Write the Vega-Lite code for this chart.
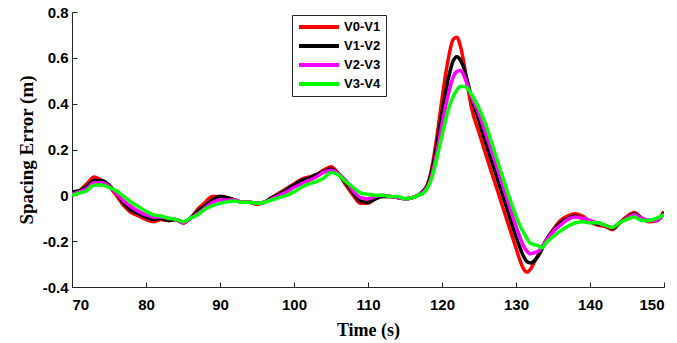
{
  "$schema": "https://vega.github.io/schema/vega-lite/v6.json",
  "width": 592,
  "height": 275,
  "autosize": {"type": "none"},
  "padding": {"left": 72, "top": 12, "right": 13, "bottom": 56},
  "background": "white",
  "config": {"view": {"stroke": null}},
  "data": {"values": [
    {"t":70,"s":"V0-V1","e":0.01},{"t":71,"s":"V0-V1","e":0.02},{"t":72,"s":"V0-V1","e":0.05},{"t":73,"s":"V0-V1","e":0.08},{"t":74,"s":"V0-V1","e":0.065},{"t":75,"s":"V0-V1","e":0.04},{"t":76,"s":"V0-V1","e":0.0},{"t":77,"s":"V0-V1","e":-0.045},{"t":78,"s":"V0-V1","e":-0.075},{"t":79,"s":"V0-V1","e":-0.09},{"t":80,"s":"V0-V1","e":-0.105},{"t":81,"s":"V0-V1","e":-0.115},{"t":82,"s":"V0-V1","e":-0.105},{"t":83,"s":"V0-V1","e":-0.11},{"t":84,"s":"V0-V1","e":-0.105},{"t":85,"s":"V0-V1","e":-0.12},{"t":86,"s":"V0-V1","e":-0.1},{"t":87,"s":"V0-V1","e":-0.06},{"t":88,"s":"V0-V1","e":-0.03},{"t":89,"s":"V0-V1","e":-0.005},{"t":90,"s":"V0-V1","e":-0.005},{"t":91,"s":"V0-V1","e":-0.01},{"t":92,"s":"V0-V1","e":-0.02},{"t":93,"s":"V0-V1","e":-0.03},{"t":94,"s":"V0-V1","e":-0.03},{"t":95,"s":"V0-V1","e":-0.04},{"t":96,"s":"V0-V1","e":-0.03},{"t":97,"s":"V0-V1","e":-0.01},{"t":98,"s":"V0-V1","e":0.01},{"t":99,"s":"V0-V1","e":0.03},{"t":100,"s":"V0-V1","e":0.05},{"t":101,"s":"V0-V1","e":0.07},{"t":102,"s":"V0-V1","e":0.08},{"t":103,"s":"V0-V1","e":0.09},{"t":104,"s":"V0-V1","e":0.11},{"t":105,"s":"V0-V1","e":0.125},{"t":106,"s":"V0-V1","e":0.095},{"t":107,"s":"V0-V1","e":0.045},{"t":108,"s":"V0-V1","e":0.0},{"t":109,"s":"V0-V1","e":-0.035},{"t":110,"s":"V0-V1","e":-0.035},{"t":111,"s":"V0-V1","e":-0.015},{"t":112,"s":"V0-V1","e":-0.005},{"t":113,"s":"V0-V1","e":-0.005},{"t":114,"s":"V0-V1","e":-0.01},{"t":115,"s":"V0-V1","e":-0.015},{"t":116,"s":"V0-V1","e":-0.01},{"t":117,"s":"V0-V1","e":0.005},{"t":117.5,"s":"V0-V1","e":0.02},{"t":118,"s":"V0-V1","e":0.045},{"t":118.5,"s":"V0-V1","e":0.1},{"t":119,"s":"V0-V1","e":0.19},{"t":119.5,"s":"V0-V1","e":0.3},{"t":120,"s":"V0-V1","e":0.42},{"t":120.5,"s":"V0-V1","e":0.53},{"t":121,"s":"V0-V1","e":0.62},{"t":121.5,"s":"V0-V1","e":0.68},{"t":122,"s":"V0-V1","e":0.69},{"t":122.5,"s":"V0-V1","e":0.65},{"t":123,"s":"V0-V1","e":0.57},{"t":123.5,"s":"V0-V1","e":0.47},{"t":124,"s":"V0-V1","e":0.38},{"t":125,"s":"V0-V1","e":0.275},{"t":126,"s":"V0-V1","e":0.17},{"t":127,"s":"V0-V1","e":0.07},{"t":128,"s":"V0-V1","e":-0.03},{"t":129,"s":"V0-V1","e":-0.13},{"t":130,"s":"V0-V1","e":-0.23},{"t":130.5,"s":"V0-V1","e":-0.28},{"t":131,"s":"V0-V1","e":-0.32},{"t":131.5,"s":"V0-V1","e":-0.335},{"t":132,"s":"V0-V1","e":-0.32},{"t":132.5,"s":"V0-V1","e":-0.29},{"t":133,"s":"V0-V1","e":-0.26},{"t":133.5,"s":"V0-V1","e":-0.23},{"t":134,"s":"V0-V1","e":-0.2},{"t":135,"s":"V0-V1","e":-0.15},{"t":136,"s":"V0-V1","e":-0.11},{"t":137,"s":"V0-V1","e":-0.09},{"t":138,"s":"V0-V1","e":-0.08},{"t":139,"s":"V0-V1","e":-0.09},{"t":140,"s":"V0-V1","e":-0.115},{"t":141,"s":"V0-V1","e":-0.13},{"t":142,"s":"V0-V1","e":-0.135},{"t":143,"s":"V0-V1","e":-0.15},{"t":144,"s":"V0-V1","e":-0.12},{"t":145,"s":"V0-V1","e":-0.092},{"t":146,"s":"V0-V1","e":-0.075},{"t":147,"s":"V0-V1","e":-0.1},{"t":148,"s":"V0-V1","e":-0.115},{"t":149,"s":"V0-V1","e":-0.11},{"t":150,"s":"V0-V1","e":-0.07},

    {"t":70,"s":"V1-V2","e":0.015},{"t":71,"s":"V1-V2","e":0.02},{"t":72,"s":"V1-V2","e":0.04},{"t":73,"s":"V1-V2","e":0.065},{"t":74,"s":"V1-V2","e":0.065},{"t":75,"s":"V1-V2","e":0.045},{"t":76,"s":"V1-V2","e":0.01},{"t":77,"s":"V1-V2","e":-0.035},{"t":78,"s":"V1-V2","e":-0.065},{"t":79,"s":"V1-V2","e":-0.08},{"t":80,"s":"V1-V2","e":-0.095},{"t":81,"s":"V1-V2","e":-0.105},{"t":82,"s":"V1-V2","e":-0.1},{"t":83,"s":"V1-V2","e":-0.11},{"t":84,"s":"V1-V2","e":-0.105},{"t":85,"s":"V1-V2","e":-0.12},{"t":86,"s":"V1-V2","e":-0.1},{"t":87,"s":"V1-V2","e":-0.07},{"t":88,"s":"V1-V2","e":-0.045},{"t":89,"s":"V1-V2","e":-0.02},{"t":90,"s":"V1-V2","e":-0.005},{"t":91,"s":"V1-V2","e":-0.01},{"t":92,"s":"V1-V2","e":-0.02},{"t":93,"s":"V1-V2","e":-0.03},{"t":94,"s":"V1-V2","e":-0.03},{"t":95,"s":"V1-V2","e":-0.035},{"t":96,"s":"V1-V2","e":-0.03},{"t":97,"s":"V1-V2","e":-0.01},{"t":98,"s":"V1-V2","e":0.005},{"t":99,"s":"V1-V2","e":0.025},{"t":100,"s":"V1-V2","e":0.045},{"t":101,"s":"V1-V2","e":0.065},{"t":102,"s":"V1-V2","e":0.075},{"t":103,"s":"V1-V2","e":0.09},{"t":104,"s":"V1-V2","e":0.105},{"t":105,"s":"V1-V2","e":0.115},{"t":106,"s":"V1-V2","e":0.095},{"t":107,"s":"V1-V2","e":0.055},{"t":108,"s":"V1-V2","e":0.01},{"t":109,"s":"V1-V2","e":-0.025},{"t":110,"s":"V1-V2","e":-0.03},{"t":111,"s":"V1-V2","e":-0.015},{"t":112,"s":"V1-V2","e":-0.005},{"t":113,"s":"V1-V2","e":-0.005},{"t":114,"s":"V1-V2","e":-0.01},{"t":115,"s":"V1-V2","e":-0.015},{"t":116,"s":"V1-V2","e":-0.01},{"t":117,"s":"V1-V2","e":0.005},{"t":117.5,"s":"V1-V2","e":0.02},{"t":118,"s":"V1-V2","e":0.04},{"t":118.5,"s":"V1-V2","e":0.09},{"t":119,"s":"V1-V2","e":0.165},{"t":119.5,"s":"V1-V2","e":0.26},{"t":120,"s":"V1-V2","e":0.36},{"t":120.5,"s":"V1-V2","e":0.45},{"t":121,"s":"V1-V2","e":0.53},{"t":121.5,"s":"V1-V2","e":0.585},{"t":122,"s":"V1-V2","e":0.605},{"t":122.5,"s":"V1-V2","e":0.59},{"t":123,"s":"V1-V2","e":0.55},{"t":123.5,"s":"V1-V2","e":0.49},{"t":124,"s":"V1-V2","e":0.425},{"t":125,"s":"V1-V2","e":0.325},{"t":126,"s":"V1-V2","e":0.22},{"t":127,"s":"V1-V2","e":0.12},{"t":128,"s":"V1-V2","e":0.02},{"t":129,"s":"V1-V2","e":-0.08},{"t":130,"s":"V1-V2","e":-0.18},{"t":130.5,"s":"V1-V2","e":-0.225},{"t":131,"s":"V1-V2","e":-0.265},{"t":131.5,"s":"V1-V2","e":-0.29},{"t":132,"s":"V1-V2","e":-0.295},{"t":132.5,"s":"V1-V2","e":-0.285},{"t":133,"s":"V1-V2","e":-0.265},{"t":133.5,"s":"V1-V2","e":-0.235},{"t":134,"s":"V1-V2","e":-0.2},{"t":135,"s":"V1-V2","e":-0.155},{"t":136,"s":"V1-V2","e":-0.12},{"t":137,"s":"V1-V2","e":-0.1},{"t":138,"s":"V1-V2","e":-0.09},{"t":139,"s":"V1-V2","e":-0.1},{"t":140,"s":"V1-V2","e":-0.115},{"t":141,"s":"V1-V2","e":-0.125},{"t":142,"s":"V1-V2","e":-0.13},{"t":143,"s":"V1-V2","e":-0.145},{"t":144,"s":"V1-V2","e":-0.12},{"t":145,"s":"V1-V2","e":-0.1},{"t":146,"s":"V1-V2","e":-0.08},{"t":147,"s":"V1-V2","e":-0.1},{"t":148,"s":"V1-V2","e":-0.11},{"t":149,"s":"V1-V2","e":-0.11},{"t":150,"s":"V1-V2","e":-0.075},

    {"t":70,"s":"V2-V3","e":0.005},{"t":71,"s":"V2-V3","e":0.015},{"t":72,"s":"V2-V3","e":0.03},{"t":73,"s":"V2-V3","e":0.055},{"t":74,"s":"V2-V3","e":0.055},{"t":75,"s":"V2-V3","e":0.04},{"t":76,"s":"V2-V3","e":0.01},{"t":77,"s":"V2-V3","e":-0.025},{"t":78,"s":"V2-V3","e":-0.05},{"t":79,"s":"V2-V3","e":-0.07},{"t":80,"s":"V2-V3","e":-0.085},{"t":81,"s":"V2-V3","e":-0.095},{"t":82,"s":"V2-V3","e":-0.095},{"t":83,"s":"V2-V3","e":-0.1},{"t":84,"s":"V2-V3","e":-0.105},{"t":85,"s":"V2-V3","e":-0.12},{"t":86,"s":"V2-V3","e":-0.1},{"t":87,"s":"V2-V3","e":-0.08},{"t":88,"s":"V2-V3","e":-0.055},{"t":89,"s":"V2-V3","e":-0.03},{"t":90,"s":"V2-V3","e":-0.02},{"t":91,"s":"V2-V3","e":-0.02},{"t":92,"s":"V2-V3","e":-0.02},{"t":93,"s":"V2-V3","e":-0.03},{"t":94,"s":"V2-V3","e":-0.03},{"t":95,"s":"V2-V3","e":-0.035},{"t":96,"s":"V2-V3","e":-0.03},{"t":97,"s":"V2-V3","e":-0.015},{"t":98,"s":"V2-V3","e":0.0},{"t":99,"s":"V2-V3","e":0.015},{"t":100,"s":"V2-V3","e":0.035},{"t":101,"s":"V2-V3","e":0.05},{"t":102,"s":"V2-V3","e":0.065},{"t":103,"s":"V2-V3","e":0.08},{"t":104,"s":"V2-V3","e":0.1},{"t":105,"s":"V2-V3","e":0.11},{"t":106,"s":"V2-V3","e":0.095},{"t":107,"s":"V2-V3","e":0.065},{"t":108,"s":"V2-V3","e":0.02},{"t":109,"s":"V2-V3","e":-0.01},{"t":110,"s":"V2-V3","e":-0.015},{"t":111,"s":"V2-V3","e":-0.005},{"t":112,"s":"V2-V3","e":0.0},{"t":113,"s":"V2-V3","e":-0.005},{"t":114,"s":"V2-V3","e":-0.01},{"t":115,"s":"V2-V3","e":-0.015},{"t":116,"s":"V2-V3","e":-0.01},{"t":117,"s":"V2-V3","e":0.005},{"t":117.5,"s":"V2-V3","e":0.015},{"t":118,"s":"V2-V3","e":0.035},{"t":118.5,"s":"V2-V3","e":0.075},{"t":119,"s":"V2-V3","e":0.14},{"t":119.5,"s":"V2-V3","e":0.22},{"t":120,"s":"V2-V3","e":0.31},{"t":120.5,"s":"V2-V3","e":0.39},{"t":121,"s":"V2-V3","e":0.46},{"t":121.5,"s":"V2-V3","e":0.515},{"t":122,"s":"V2-V3","e":0.54},{"t":122.5,"s":"V2-V3","e":0.545},{"t":123,"s":"V2-V3","e":0.52},{"t":123.5,"s":"V2-V3","e":0.475},{"t":124,"s":"V2-V3","e":0.43},{"t":125,"s":"V2-V3","e":0.355},{"t":126,"s":"V2-V3","e":0.26},{"t":127,"s":"V2-V3","e":0.165},{"t":128,"s":"V2-V3","e":0.065},{"t":129,"s":"V2-V3","e":-0.035},{"t":130,"s":"V2-V3","e":-0.135},{"t":130.5,"s":"V2-V3","e":-0.18},{"t":131,"s":"V2-V3","e":-0.22},{"t":131.5,"s":"V2-V3","e":-0.245},{"t":132,"s":"V2-V3","e":-0.255},{"t":132.5,"s":"V2-V3","e":-0.25},{"t":133,"s":"V2-V3","e":-0.245},{"t":133.5,"s":"V2-V3","e":-0.225},{"t":134,"s":"V2-V3","e":-0.2},{"t":135,"s":"V2-V3","e":-0.16},{"t":136,"s":"V2-V3","e":-0.13},{"t":137,"s":"V2-V3","e":-0.105},{"t":138,"s":"V2-V3","e":-0.095},{"t":139,"s":"V2-V3","e":-0.1},{"t":140,"s":"V2-V3","e":-0.11},{"t":141,"s":"V2-V3","e":-0.12},{"t":142,"s":"V2-V3","e":-0.13},{"t":143,"s":"V2-V3","e":-0.14},{"t":144,"s":"V2-V3","e":-0.12},{"t":145,"s":"V2-V3","e":-0.1},{"t":146,"s":"V2-V3","e":-0.085},{"t":147,"s":"V2-V3","e":-0.1},{"t":148,"s":"V2-V3","e":-0.11},{"t":149,"s":"V2-V3","e":-0.11},{"t":150,"s":"V2-V3","e":-0.08},

    {"t":70,"s":"V3-V4","e":0.0},{"t":71,"s":"V3-V4","e":0.01},{"t":72,"s":"V3-V4","e":0.02},{"t":73,"s":"V3-V4","e":0.045},{"t":74,"s":"V3-V4","e":0.045},{"t":75,"s":"V3-V4","e":0.035},{"t":76,"s":"V3-V4","e":0.02},{"t":77,"s":"V3-V4","e":-0.005},{"t":78,"s":"V3-V4","e":-0.03},{"t":79,"s":"V3-V4","e":-0.05},{"t":80,"s":"V3-V4","e":-0.07},{"t":81,"s":"V3-V4","e":-0.085},{"t":82,"s":"V3-V4","e":-0.09},{"t":83,"s":"V3-V4","e":-0.1},{"t":84,"s":"V3-V4","e":-0.105},{"t":85,"s":"V3-V4","e":-0.115},{"t":86,"s":"V3-V4","e":-0.1},{"t":87,"s":"V3-V4","e":-0.085},{"t":88,"s":"V3-V4","e":-0.06},{"t":89,"s":"V3-V4","e":-0.045},{"t":90,"s":"V3-V4","e":-0.035},{"t":91,"s":"V3-V4","e":-0.028},{"t":92,"s":"V3-V4","e":-0.025},{"t":93,"s":"V3-V4","e":-0.03},{"t":94,"s":"V3-V4","e":-0.03},{"t":95,"s":"V3-V4","e":-0.035},{"t":96,"s":"V3-V4","e":-0.03},{"t":97,"s":"V3-V4","e":-0.02},{"t":98,"s":"V3-V4","e":-0.01},{"t":99,"s":"V3-V4","e":0.0},{"t":100,"s":"V3-V4","e":0.015},{"t":101,"s":"V3-V4","e":0.035},{"t":102,"s":"V3-V4","e":0.05},{"t":103,"s":"V3-V4","e":0.06},{"t":104,"s":"V3-V4","e":0.075},{"t":105,"s":"V3-V4","e":0.1},{"t":106,"s":"V3-V4","e":0.09},{"t":107,"s":"V3-V4","e":0.06},{"t":108,"s":"V3-V4","e":0.035},{"t":109,"s":"V3-V4","e":0.01},{"t":110,"s":"V3-V4","e":0.005},{"t":111,"s":"V3-V4","e":0.0},{"t":112,"s":"V3-V4","e":0.0},{"t":113,"s":"V3-V4","e":-0.005},{"t":114,"s":"V3-V4","e":-0.005},{"t":115,"s":"V3-V4","e":-0.015},{"t":116,"s":"V3-V4","e":-0.01},{"t":117,"s":"V3-V4","e":0.003},{"t":117.5,"s":"V3-V4","e":0.01},{"t":118,"s":"V3-V4","e":0.03},{"t":118.5,"s":"V3-V4","e":0.065},{"t":119,"s":"V3-V4","e":0.12},{"t":119.5,"s":"V3-V4","e":0.19},{"t":120,"s":"V3-V4","e":0.26},{"t":120.5,"s":"V3-V4","e":0.33},{"t":121,"s":"V3-V4","e":0.39},{"t":121.5,"s":"V3-V4","e":0.43},{"t":122,"s":"V3-V4","e":0.46},{"t":122.5,"s":"V3-V4","e":0.475},{"t":123,"s":"V3-V4","e":0.475},{"t":123.5,"s":"V3-V4","e":0.465},{"t":124,"s":"V3-V4","e":0.44},{"t":125,"s":"V3-V4","e":0.38},{"t":126,"s":"V3-V4","e":0.3},{"t":127,"s":"V3-V4","e":0.2},{"t":128,"s":"V3-V4","e":0.1},{"t":129,"s":"V3-V4","e":0.0},{"t":130,"s":"V3-V4","e":-0.09},{"t":130.5,"s":"V3-V4","e":-0.13},{"t":131,"s":"V3-V4","e":-0.16},{"t":131.5,"s":"V3-V4","e":-0.19},{"t":132,"s":"V3-V4","e":-0.21},{"t":132.5,"s":"V3-V4","e":-0.215},{"t":133,"s":"V3-V4","e":-0.22},{"t":133.5,"s":"V3-V4","e":-0.23},{"t":134,"s":"V3-V4","e":-0.21},{"t":135,"s":"V3-V4","e":-0.18},{"t":136,"s":"V3-V4","e":-0.155},{"t":137,"s":"V3-V4","e":-0.135},{"t":138,"s":"V3-V4","e":-0.12},{"t":139,"s":"V3-V4","e":-0.115},{"t":140,"s":"V3-V4","e":-0.12},{"t":141,"s":"V3-V4","e":-0.12},{"t":142,"s":"V3-V4","e":-0.13},{"t":143,"s":"V3-V4","e":-0.14},{"t":144,"s":"V3-V4","e":-0.12},{"t":145,"s":"V3-V4","e":-0.105},{"t":146,"s":"V3-V4","e":-0.095},{"t":147,"s":"V3-V4","e":-0.11},{"t":148,"s":"V3-V4","e":-0.11},{"t":149,"s":"V3-V4","e":-0.1},{"t":150,"s":"V3-V4","e":-0.085}
  ]},
  "mark": {"type": "line", "strokeWidth": 3.5, "interpolate": "monotone", "clip": true},
  "encoding": {
    "x": {
      "field": "t", "type": "quantitative",
      "scale": {"domain": [70, 150], "nice": false, "zero": false},
      "axis": {
        "values": [70, 80, 90, 100, 110, 120, 130, 140, 150],
        "title": "Time (s)",
        "titleFont": "Liberation Serif", "titleFontSize": 18, "titleFontWeight": "bold", "titleColor": "#000000",
        "titlePadding": 9,
        "labelFont": "Liberation Sans", "labelFontSize": 15, "labelFontWeight": "bold", "labelColor": "#000000",
        "labelPadding": 15,
        "tickSize": -5, "tickColor": "#262626", "domainColor": "#262626",
        "grid": false
      }
    },
    "y": {
      "field": "e", "type": "quantitative",
      "scale": {"domain": [-0.4, 0.8], "nice": false, "zero": false},
      "axis": {
        "values": [-0.4, -0.2, 0, 0.2, 0.4, 0.6, 0.8],
        "labelExpr": "replace(format(datum.value, '~g'), '\u2212', '-')",
        "title": "Spacing Error (m)",
        "titleFont": "Liberation Serif", "titleFontSize": 19, "titleFontWeight": "bold", "titleColor": "#000000",
        "titlePadding": 6,
        "labelFont": "Liberation Sans", "labelFontSize": 15, "labelFontWeight": "bold", "labelColor": "#000000",
        "labelPadding": 9,
        "tickSize": -5, "tickColor": "#262626", "domainColor": "#262626",
        "grid": false
      }
    },
    "color": {
      "field": "s", "type": "nominal",
      "scale": {"domain": ["V0-V1", "V1-V2", "V2-V3", "V3-V4"], "range": ["#ff0000", "#000000", "#ff00ff", "#00ff00"]},
      "legend": {
        "title": null,
        "orient": "none",
        "legendX": 220,
        "legendY": 3,
        "strokeColor": "#262626",
        "fillColor": "white",
        "padding": 5,
        "symbolType": "stroke",
        "symbolSize": 1600,
        "symbolStrokeWidth": 4,
        "clipHeight": 14,
        "labelFont": "Liberation Sans", "labelFontSize": 13, "labelFontWeight": "bold", "labelColor": "#000000",
        "labelOffset": 3,
        "rowPadding": 5
      }
    }
  }
}
